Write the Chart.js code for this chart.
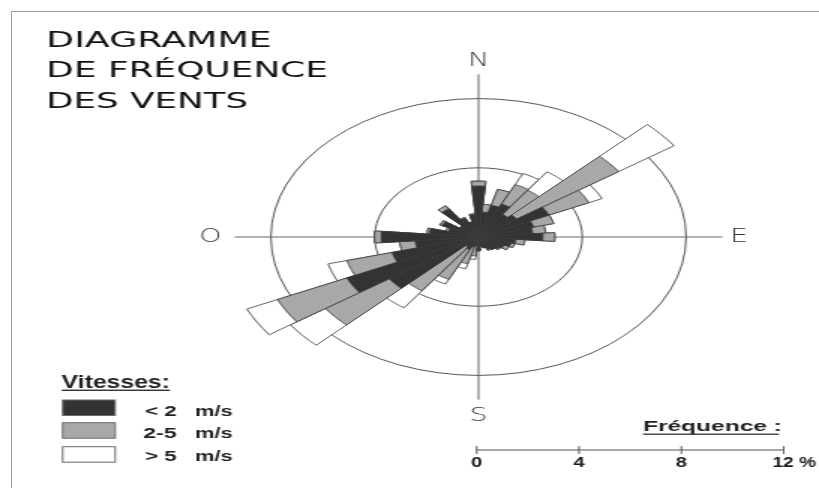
<!DOCTYPE html>
<html>
<head>
<meta charset="utf-8">
<script src="https://cdn.jsdelivr.net/npm/chart.js@4.4.1/dist/chart.umd.min.js"></script>
<style>
  html, body { margin: 0; padding: 0; background: #fff; overflow: hidden; }
  #wrap { position: absolute; left: 0; top: 0; width: 546px; height: 488px;
          transform: scaleX(1.5); transform-origin: 0 0; }
  #frame { position: absolute; left: 11px; top: 11px; width: 900px; height: 600px;
           border: 1px solid #9c9c9c; box-sizing: border-box; pointer-events: none; }
</style>
</head>
<body>
<div id="wrap"><canvas id="rose" width="546" height="488"></canvas></div>
<div id="frame"></div>
<script>
// Wind directions in degrees (clockwise from north), 10° sectors
const directions = [0, 10, 20, 30, 40, 50, 60, 70, 80, 90, 100, 110, 120, 130, 140, 150, 160, 170,
                    180, 190, 200, 210, 220, 230, 240, 250, 260, 270, 280, 290, 300, 310, 320, 330, 340, 350];

// Frequency (%) per sector for each speed class
const below2 = [2.95, 1.45, 1.9, 2.1, 1.6, 1.8, 3.0, 2.2, 2.1, 2.48, 1.45, 1.3, 1.1, 1.0, 0.9, 0.8, 0.65, 0.55,
                0.8, 0.5, 0.6, 0.8, 0.7, 4.2, 5.6, 3.45, 2.45, 3.75, 1.9, 1.2, 1.55, 0.9, 2.0, 1.2, 0.9, 1.3];
const from2to5 = [0.25, 0.45, 0.95, 1.25, 1.7, 4.8, 1.7, 0.8, 0.5, 0.46, 0.35, 0.15, 0.2, 0.05, 0, 0.05, 0, 0,
                  0, 0.6, 1.0, 1.9, 3.1, 3.0, 2.95, 1.8, 0.6, 0.25, 0.1, 0.1, 0.1, 0, 0.2, 0.05, 0, 0.05];
const above5 = [0.05, 0, 0, 0.7, 1.3, 2.6, 0.55, 0, 0, 0, 0, 0, 0, 0, 0, 0, 0, 0,
                0, 0.2, 0.3, 0.3, 1.2, 1.65, 1.3, 0.75, 0, 0, 0, 0, 0, 0, 0, 0, 0, 0];

const ringValues = [4, 8];          // reference circles (%)
const barTicks = [0, 4, 8, 12];     // frequency scale bar (%)
const cardinals = [
  { text: 'N', deg: 0,   dist: 10.15 },
  { text: 'E', deg: 90,  dist: 10.05 },
  { text: 'S', deg: 180, dist: 10.35 },
  { text: 'O', deg: 270, dist: 10.33 }
];
const speedLabels = [['< 2', 'm/s'], ['2-5', 'm/s'], ['> 5', 'm/s']];

const DARK = '#333333', GREY = '#a8a8a8', WHITE = '#ffffff', EDGE = '#3c3c3c';

// stacked radii: each class drawn from the centre out to its cumulative frequency
const upTo5 = below2.map((v, i) => v + from2to5[i]);
const total = upTo5.map((v, i) => v + above5[i]);

function fitText(ctx, text, x, y, font, width, color, align) {
  ctx.save();
  ctx.font = font;
  ctx.fillStyle = color || '#111';
  ctx.textBaseline = 'alphabetic';
  const w = ctx.measureText(text).width;
  const sx = width ? width / w : 1;
  ctx.translate(x, y);
  ctx.scale(sx, 1);
  ctx.textAlign = align || 'left';
  ctx.fillText(text, 0, 0);
  ctx.restore();
  return w * sx;
}

const decorations = {
  id: 'decorations',
  beforeDatasetsDraw(chart) {
    const r = chart.scales.r, ctx = chart.ctx;
    const len = r.getDistanceFromCenterForValue(9.4);
    ctx.save();
    ctx.strokeStyle = '#666';
    ctx.lineWidth = 1;
    ctx.beginPath();
    ctx.moveTo(r.xCenter, r.yCenter - len); ctx.lineTo(r.xCenter, r.yCenter + len);
    ctx.moveTo(r.xCenter - len, r.yCenter); ctx.lineTo(r.xCenter + len, r.yCenter);
    ctx.stroke();
    ctx.restore();
  },
  afterDraw(chart) {
    const r = chart.scales.r, ctx = chart.ctx;
    ctx.save();
    // compass letters
    ctx.font = '200 19px "DejaVu Sans"';
    ctx.fillStyle = '#333';
    ctx.textAlign = 'center';
    ctx.textBaseline = 'middle';
    cardinals.forEach(c => {
      const d = r.getDistanceFromCenterForValue(c.dist);
      const a = c.deg * Math.PI / 180;
      ctx.fillText(c.text, r.xCenter + d * Math.sin(a), r.yCenter - d * Math.cos(a));
    });
    ctx.restore();

    // title
    const tf = '22px "DejaVu Sans"';
    fitText(ctx, 'DIAGRAMME', 30.7, 46.7, tf, 150.5, '#111');
    fitText(ctx, 'DE FRÉQUENCE', 30.7, 77.3, tf, 188, '#111');
    fitText(ctx, 'DES VENTS', 30.7, 108.3, tf, 134.7, '#111');

    // speed legend
    const lf = 'bold 18px "Liberation Sans", Arial, sans-serif';
    const w = fitText(ctx, 'Vitesses:', 41.1, 388, lf, 72.2, '#222');
    ctx.fillStyle = '#222';
    ctx.fillRect(41.1, 389.6, w, 1.3);
    const swatchY = [400, 422.7, 446.7];
    const rowBase = [416, 438.3, 461];
    const fills = [DARK, GREY, WHITE];
    const rf = 'bold 15px "Liberation Sans", Arial, sans-serif';
    speedLabels.forEach((lbl, i) => {
      ctx.fillStyle = fills[i];
      ctx.fillRect(41.8, swatchY[i], 35, 15.5);
      ctx.strokeStyle = '#6a6a6a';
      ctx.lineWidth = 1;
      ctx.strokeRect(41.8, swatchY[i], 35, 15.5);
      fitText(ctx, lbl[0], i === 1 ? 95.5 : 96.7, rowBase[i], rf, i === 1 ? 22.2 : 21.1, '#222');
      fitText(ctx, lbl[1], 130, rowBase[i], rf, 25.1, '#222');
    });

    // frequency scale bar, ticks placed with the radial scale (drawn slightly reduced)
    const bf = 'bold 14px "Liberation Sans", Arial, sans-serif';
    const fw = fitText(ctx, 'Fréquence :', 428.7, 431, bf, 92.6, '#222');
    ctx.fillStyle = '#222';
    ctx.fillRect(428.7, 433.6, fw - 2, 1.2);
    const y0 = 450;
    const barOrigin = r.xCenter - 1.2;
    const xs = barTicks.map(v => barOrigin + 0.986 * r.getDistanceFromCenterForValue(v));
    ctx.save();
    ctx.strokeStyle = '#555';
    ctx.lineWidth = 1;
    ctx.beginPath();
    ctx.moveTo(xs[0], y0); ctx.lineTo(xs[xs.length - 1], y0);
    xs.forEach(x => { ctx.moveTo(x, y0 - 4); ctx.lineTo(x, y0 + 4); });
    ctx.stroke();
    ctx.restore();
    const nf = 'bold 15px "Liberation Sans", Arial, sans-serif';
    barTicks.forEach((v, i) => {
      const s = String(v);
      ctx.save();
      ctx.font = nf;
      const nw = ctx.measureText(s).width * 0.9;
      ctx.restore();
      if (i === barTicks.length - 1) {
        fitText(ctx, s + ' %', xs[i] - nw / 2, 467, nf, 29, '#1a1a1a');
      } else {
        fitText(ctx, s, xs[i] - nw / 2, 467, nf, nw, '#1a1a1a');
      }
    });
  }
};

new Chart(document.getElementById('rose'), {
  type: 'polarArea',
  data: {
    labels: directions.map(d => d + '°'),
    datasets: [
      { label: '< 2 m/s', data: below2, backgroundColor: DARK, borderColor: EDGE, borderWidth: 0.8 },
      { label: '2-5 m/s', data: upTo5, backgroundColor: GREY, borderColor: EDGE, borderWidth: 0.8 },
      { label: '> 5 m/s', data: total, backgroundColor: WHITE, borderColor: EDGE, borderWidth: 0.8 }
    ]
  },
  options: {
    responsive: false,
    devicePixelRatio: 1,
    animation: false,
    layout: { padding: { left: 146, right: 54, top: 64, bottom: 78 } },
    plugins: { legend: { display: false }, tooltip: { enabled: false } },
    scales: {
      r: {
        min: 0,
        max: 10,
        startAngle: -5,
        ticks: { display: false, stepSize: 4 },
        grid: {
          circular: true,
          lineWidth: 1,
          color: c => (c.tick && ringValues.includes(c.tick.value)) ? '#555' : 'rgba(0,0,0,0)'
        },
        angleLines: { display: false },
        pointLabels: { display: false }
      }
    }
  },
  plugins: [decorations]
});
</script>
</body>
</html>
